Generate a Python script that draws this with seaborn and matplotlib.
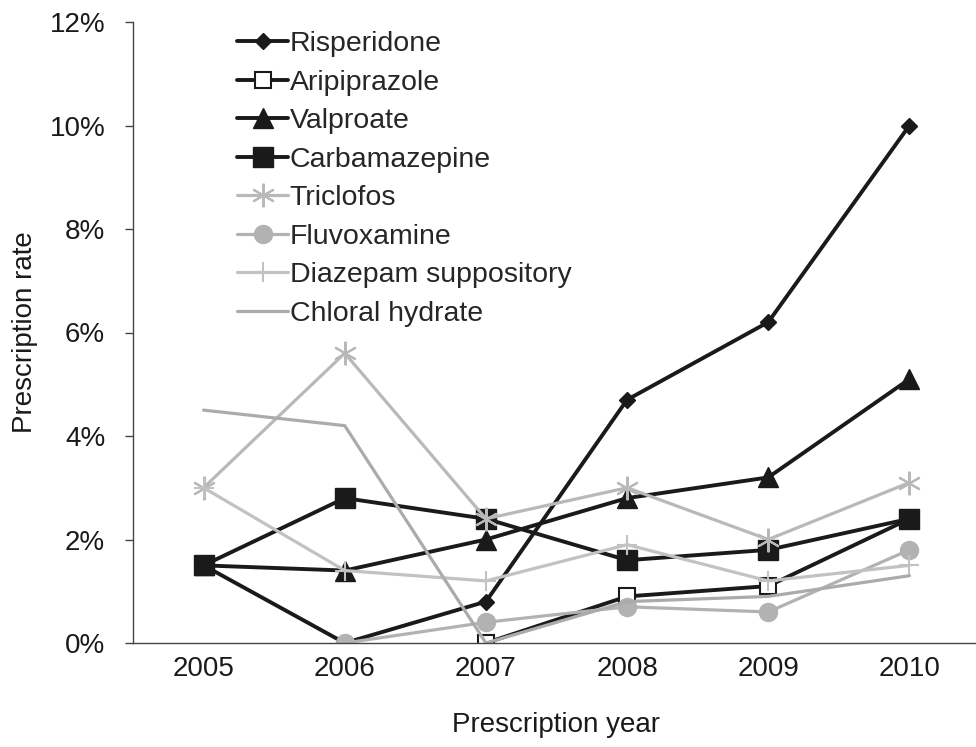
## Prescription rate by year, line chart with Excel-like markers
import numpy as np
import pandas as pd
import matplotlib
matplotlib.use("Agg")
import matplotlib.pyplot as plt
import seaborn as sns
from matplotlib.ticker import FuncFormatter, FixedLocator

## Data (percent)
years = [2005, 2006, 2007, 2008, 2009, 2010]
risperidone = [1.5, 0.0, 0.8, 4.7, 6.2, 10.0]
aripiprazole = [np.nan, np.nan, 0.0, 0.9, 1.1, 2.4]
valproate = [1.5, 1.4, 2.0, 2.8, 3.2, 5.1]
carbamazepine = [1.5, 2.8, 2.4, 1.6, 1.8, 2.4]
triclofos = [3.0, 5.6, 2.4, 3.0, 2.0, 3.1]
fluvoxamine = [np.nan, 0.0, 0.4, 0.7, 0.6, 1.8]
diazepam = [3.0, 1.4, 1.2, 1.9, 1.2, 1.5]
chloral = [4.5, 4.2, 0.0, 0.8, 0.9, 1.3]

names = ["Risperidone", "Aripiprazole", "Valproate", "Carbamazepine",
         "Triclofos", "Fluvoxamine", "Diazepam suppository", "Chloral hydrate"]
values = [risperidone, aripiprazole, valproate, carbamazepine,
          triclofos, fluvoxamine, diazepam, chloral]

# black series, then grey series
BLK = "#1a1a1a"
styles = {
    "Risperidone": dict(color=BLK, lw=2.8, marker="D", ms=8, mfc=BLK, mec=BLK, mew=1),
    "Aripiprazole": dict(color=BLK, lw=2.8, marker="s", ms=12, mfc="white", mec=BLK, mew=1.5),
    "Valproate": dict(color=BLK, lw=2.8, marker="^", ms=14, mfc=BLK, mec=BLK, mew=1),
    "Carbamazepine": dict(color=BLK, lw=2.8, marker="s", ms=14, mfc=BLK, mec=BLK, mew=1),
    "Triclofos": dict(color="#b9b9b9", lw=2.3, marker=(6, 2, 0), ms=17, mfc="#b9b9b9", mec="#b9b9b9", mew=1.5),
    "Fluvoxamine": dict(color="#b2b2b2", lw=2.3, marker="o", ms=13, mfc="#b2b2b2", mec="#b2b2b2", mew=1),
    "Diazepam suppository": dict(color="#c2c2c2", lw=2.3, marker="+", ms=15, mfc="#c2c2c2", mec="#c2c2c2", mew=1.5),
    "Chloral hydrate": dict(color="#ababab", lw=2.3, marker=None, ms=0, mfc="#ababab", mec="#ababab", mew=1),
}

sns.set_style("white")
plt.rcParams["font.family"] = ["Liberation Sans", "DejaVu Sans"]

fig = plt.figure(figsize=(9.76, 7.47), dpi=100)
ax = fig.add_axes([133 / 976, 1 - 643 / 747, 847 / 976, 621 / 747])

for name, vals in zip(names, values):
    st = styles[name]
    sns.lineplot(x=years, y=vals, ax=ax, label=name, color=st["color"],
                 linewidth=st["lw"], marker=st["marker"], markersize=st["ms"],
                 markerfacecolor=st["mfc"], markeredgecolor=st["mec"],
                 markeredgewidth=st["mew"])

ax.set_xlim(2004.5, 2010.5)
ax.set_ylim(0, 12)
ax.set_yticks(range(0, 13, 2))
ax.yaxis.set_major_formatter(FuncFormatter(lambda v, p: f"{v:.0f}%"))
ax.set_xticks(years)
ax.set_xticklabels([str(y) for y in years])
ax.xaxis.set_minor_locator(FixedLocator([y - 0.5 for y in years] + [2010.5]))
ax.tick_params(axis="x", which="major", length=0, pad=9, labelsize=20, colors="#1a1a1a")
ax.tick_params(axis="x", which="minor", length=6, width=1, color="#444444", direction="out")
ax.tick_params(axis="y", which="major", length=6, width=1, color="#444444", pad=14,
               labelsize=20, labelcolor="#1a1a1a", direction="out", left=True)
sns.despine(ax=ax, top=True, right=True)
for s in ["left", "bottom"]:
    ax.spines[s].set_color("#444444")
    ax.spines[s].set_linewidth(1.0)

ax.set_xlabel("Prescription year", fontsize=20, color="#1a1a1a", labelpad=22)
ax.set_ylabel("Prescription rate", fontsize=20, color="#1a1a1a", labelpad=8)

ax.legend(loc="upper left", bbox_to_anchor=(237 / 976, 1 - 31 / 747),
          bbox_transform=fig.transFigure, frameon=False, fontsize=20.5,
          handlelength=1.8, handletextpad=0.05, labelspacing=0.44,
          borderpad=0, borderaxespad=0)

plt.savefig("out.png", dpi=100)
